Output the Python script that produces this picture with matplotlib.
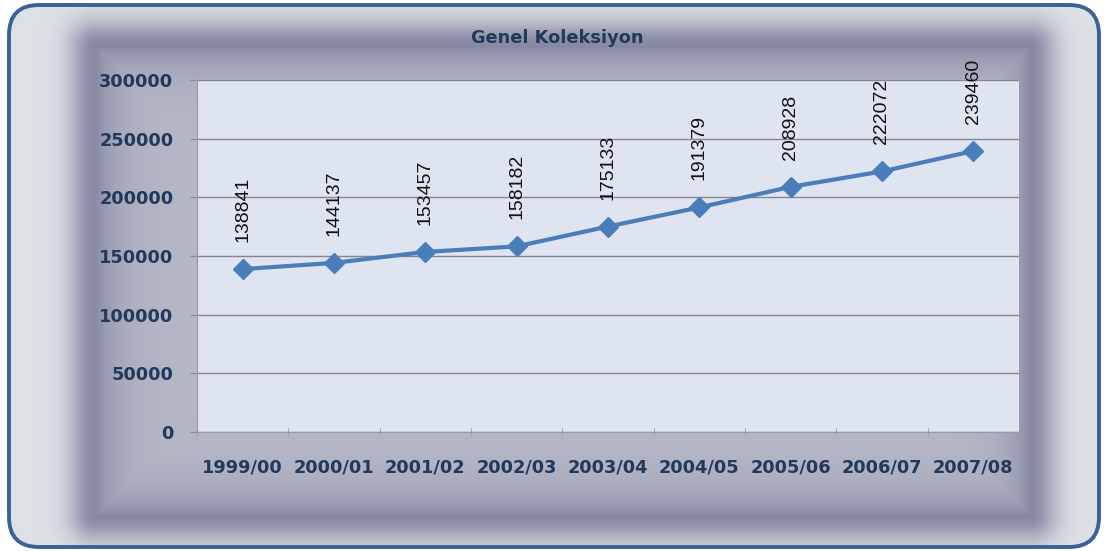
import matplotlib
matplotlib.use('Agg')
import matplotlib.pyplot as plt
from matplotlib.patches import FancyBboxPatch
import numpy as np

# data
seasons = ['1999/00', '2000/01', '2001/02', '2002/03', '2003/04',
           '2004/05', '2005/06', '2006/07', '2007/08']
collection = [138841, 144137, 153457, 158182, 175133,
              191379, 208928, 222072, 239460]
y_ticks = [0, 50000, 100000, 150000, 200000, 250000, 300000]

W, H = 1104, 551
navy = '#22395c'

# background: soft shadowed panel inside a rounded frame
yy, xx = np.mgrid[0:H, 0:W].astype(float)
x0, x1, y0, y1 = 95, 1030, 46, 515
dx = np.maximum(x0 - xx, xx - x1)
dy = np.maximum(y0 - yy, yy - y1)
outside = np.hypot(np.maximum(dx, 0), np.maximum(dy, 0))
inside = np.minimum(np.maximum(dx, dy), 0)
d = np.where(outside > 0, outside, inside)
dark_out = np.exp(-(np.maximum(d, 0) / 26.0) ** 2)
dark_in = np.exp(np.minimum(d, 0) / 22.0)
dark = np.where(d > 0, dark_out, dark_in)
light_out = np.array([0.87, 0.88, 0.90])
light_in = np.array([0.71, 0.72, 0.78])
shade = np.array([0.53, 0.54, 0.64])
light = np.where((d > 0)[..., None], light_out, light_in)
img = light + (shade - light) * dark[..., None]

# white outside the rounded frame
fx0, fx1, fy0, fy1, r = 9, 1099, 5, 547, 30
cx = np.clip(xx, fx0 + r, fx1 - r)
cy = np.clip(yy, fy0 + r, fy1 - r)
out_frame = (np.hypot(xx - cx, yy - cy) > r) | (xx < fx0) | (xx > fx1) | (yy < fy0) | (yy > fy1)
img[out_frame] = 1.0

fig = plt.figure(figsize=(W / 100, H / 100), dpi=100)
bg = fig.add_axes([0, 0, 1, 1])
bg.imshow(img, extent=(0, W, H, 0), aspect='auto', interpolation='bilinear')
bg.add_patch(FancyBboxPatch((fx0 + r, fy0 + r), fx1 - fx0 - 2 * r, fy1 - fy0 - 2 * r,
                            boxstyle='round,pad=%d' % r, fill=False,
                            edgecolor='#3a6195', linewidth=2.8))
bg.set_xlim(0, W)
bg.set_ylim(H, 0)
bg.axis('off')

bg.text(557, 38, 'Genel Koleksiyon', ha='center', va='center',
        fontsize=12.8, fontweight='bold', color=navy)

# plot area
ax = fig.add_axes([197 / W, 119 / H, 822 / W, 352 / H])
ax.set_facecolor('#dfe4f1')
x = np.arange(len(seasons))
ax.plot(x, collection, color='#4a7ebb', linewidth=3, marker='D',
        markersize=10.5, markerfacecolor='#4a7ebb', markeredgecolor='#4a7ebb')

for i, v in enumerate(collection):
    ax.annotate(str(v), (i, v), xytext=(0, 27), textcoords='offset pixels',
                rotation=90, ha='center', va='bottom', fontsize=14,
                family='Liberation Sans', color='#111111')

ax.set_xlim(-0.5, len(seasons) - 0.5)
ax.set_ylim(0, 300000)
ax.set_yticks(y_ticks)
ax.set_yticklabels([str(t) for t in y_ticks])
ax.set_xticks(x)
ax.set_xticklabels(seasons)
ax.set_xticks(np.arange(-0.5, len(seasons)), minor=True)
ax.tick_params(axis='x', which='major', length=0, pad=19)
ax.tick_params(axis='x', which='minor', length=6, direction='inout', color='#9a9aa0')
ax.tick_params(axis='y', length=5, color='#8a8a90', pad=12)
for lab in ax.get_xticklabels() + ax.get_yticklabels():
    lab.set_fontweight('bold')
    lab.set_fontsize(12.8)
    lab.set_color(navy)

ax.yaxis.grid(True, color='#86868e', linewidth=1)
ax.set_axisbelow(True)
for s in ['top', 'right']:
    ax.spines[s].set_visible(False)
ax.spines['left'].set_color('#9a9aa0')
ax.spines['bottom'].set_color('#9a9aa0')

plt.savefig('out.png', dpi=100)
plt.close()
